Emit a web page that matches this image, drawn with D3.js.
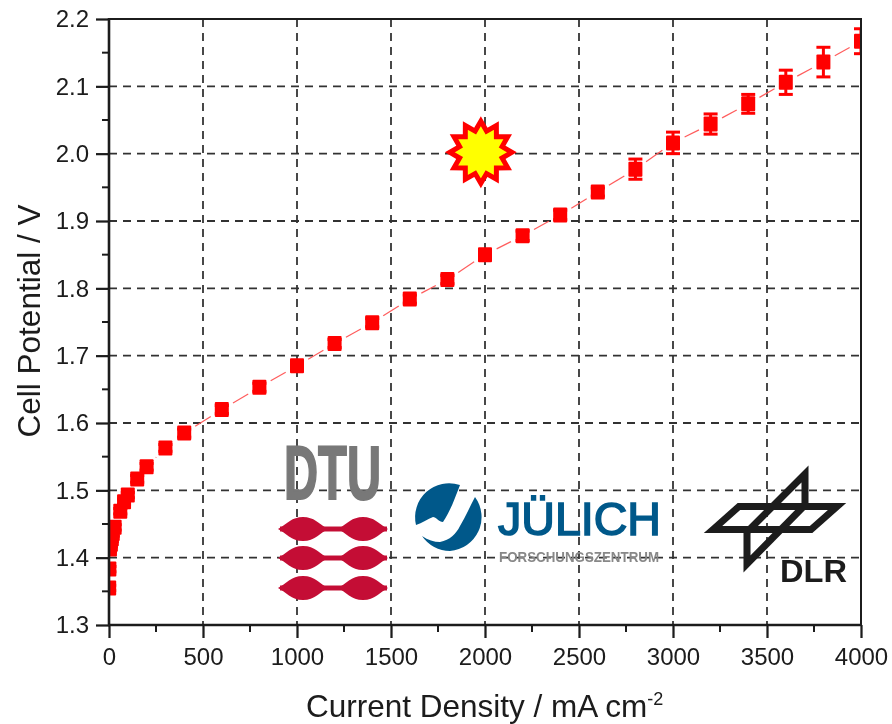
<!DOCTYPE html>
<html><head><meta charset="utf-8">
<script src="https://cdn.jsdelivr.net/npm/d3@7"></script>
<style>html,body{margin:0;background:#fff}svg{display:block}text{font-family:"Liberation Sans",Arial,sans-serif;fill:#1a1a1a}</style>
</head><body><svg id="c" width="892" height="724"></svg>
<script>
const currentDensity=[1,2,5,10,15,20,30,60,80,100,150,200,300,400,600,800,1000,1200,1400,1600,1800,2000,2200,2400,2600,2800,3000,3200,3400,3600,3800,4000];
const cellPotential=[1.355,1.383,1.413,1.42,1.428,1.436,1.445,1.469,1.483,1.493,1.517,1.535,1.563,1.585,1.62,1.653,1.685,1.718,1.749,1.784,1.813,1.85,1.878,1.909,1.943,1.977,2.016,2.044,2.074,2.106,2.136,2.167];
const errorBar=[.004,.004,.004,.004,.004,.004,.004,.004,.004,.004,.005,.005,.005,.006,.006,.006,.006,.006,.006,.006,.006,.007,.007,.007,.006,.015,.016,.015,.014,.018,.022,.0185];
const xTicks=[0,500,1000,1500,2000,2500,3000,3500,4000];
const xMinor=[250,750,1250,1750,2250,2750,3250,3750];
const yTicks=[1.3,1.4,1.5,1.6,1.7,1.8,1.9,2.0,2.1,2.2];
const yMinor=[1.35,1.45,1.55,1.65,1.75,1.85,1.95,2.05,2.15];
const starPosition=[1978,2.002];
const xTitle="Current Density / mA cm";
const yTitle="Cell Potential / V";

const L=109,R=861,T=19,B=625;
const svg=d3.select("#c");
const x=d3.scaleLinear().domain([0,4000]).range([L,R]);
const y=d3.scaleLinear().domain([1.3,2.2]).range([B,T]);
const defs=svg.append("defs");
defs.append("clipPath").attr("id","plot").append("rect").attr("x",L).attr("y",T-4).attr("width",R-L).attr("height",B-T+4);
defs.append("filter").attr("id","soft").append("feGaussianBlur").attr("stdDeviation",0.5);
defs.append("filter").attr("id","soft2").append("feGaussianBlur").attr("stdDeviation",0.7);

const root=svg.append("g").attr("filter","url(#soft)");
// grid
const grid=root.append("g").attr("stroke","#333").attr("stroke-width",1.8).attr("stroke-dasharray","8 6").attr("fill","none");
grid.selectAll(".v").data(xTicks.slice(1,-1)).join("line").attr("x1",d=>x(d)).attr("x2",d=>x(d)).attr("y1",T).attr("y2",B);
grid.selectAll(".h").data(yTicks.slice(1,-1)).join("line").attr("y1",d=>y(d)).attr("y2",d=>y(d)).attr("x1",L).attr("x2",R);

// logos
const logos=root.append("g");
logos.append("text").attr("x",284).attr("y",499).attr("font-size",76).attr("font-weight",700).attr("textLength",97).attr("lengthAdjust","spacingAndGlyphs").attr("stroke","#787878").attr("stroke-width",2).style("fill","#787878").text("DTU");
[529,558,588].forEach(cy=>{
  const g=logos.append("g").attr("fill","#c41136");
  g.append("rect").attr("x",280).attr("y",cy-2.5).attr("width",107).attr("height",5);
  [303,363].forEach(cx=>g.append("path").attr("d",`M${cx-25},${cy}C${cx-17},${cy-4} ${cx-12},${cy-12} ${cx},${cy-12}C${cx+12},${cy-12} ${cx+17},${cy-4} ${cx+25},${cy}C${cx+17},${cy+4} ${cx+12},${cy+12} ${cx},${cy+12}C${cx-12},${cy+12} ${cx-17},${cy+4} ${cx-25},${cy}Z`));
});
const ju="#00598a";
logos.append("path").attr("fill",ju).attr("d","M416,525 A34,34 0 0 1 460,485 C455,498 450,512 443,522 C439,522 436,517 433,517 C428,519 422,523 416,525Z");
logos.append("path").attr("fill",ju).attr("d","M475,497 A34,34 0 0 1 450,551 A34,34 0 0 1 422,536 C428,540 434,542 440,542 C450,540 456,534 460,526 C466,516 470,506 475,497Z");
logos.append("text").attr("x",498).attr("y",535).attr("font-size",46).attr("textLength",163).attr("lengthAdjust","spacingAndGlyphs").style("fill",ju).attr("stroke",ju).attr("stroke-width",1.6).text("JÜLICH");
logos.append("text").attr("x",499).attr("y",562).attr("font-size",14).attr("font-weight",700).attr("textLength",160).attr("lengthAdjust","spacingAndGlyphs").style("fill","#888").attr("filter","url(#soft2)").text("FORSCHUNGSZENTRUM");
const dl=logos.append("g").attr("fill","none").attr("stroke","#1c1c1c").attr("stroke-width",7).attr("stroke-linejoin","miter").attr("stroke-miterlimit",8);
dl.append("path").attr("d","M713,529.5L739,506.5H837L811,529.5Z");
dl.append("path").attr("d","M747,564V532L805,474V505Z");
logos.append("text").attr("x",780).attr("y",582).attr("font-size",31).attr("font-weight",700).attr("textLength",67).attr("lengthAdjust","spacingAndGlyphs").style("fill","#1c1c1c").text("DLR");

// data
const pts=currentDensity.map((d,i)=>({px:x(d),py:y(cellPotential[i]),x:d,y:cellPotential[i],e:errorBar[i]}));
const plot=root.append("g").attr("clip-path","url(#plot)");
const gap=13;
const segs=d3.pairs(pts).map(([a,b])=>{
  const dx=b.px-a.px,dy=b.py-a.py,l=Math.hypot(dx,dy);
  if(l<=2*gap) return null;
  return {x1:a.px+dx/l*gap,y1:a.py+dy/l*gap,x2:b.px-dx/l*gap,y2:b.py-dy/l*gap};
}).filter(Boolean);
plot.selectAll(".seg").data(segs).join("line").attr("stroke","#ff5c5c").attr("stroke-width",1.2)
  .attr("x1",d=>d.x1).attr("y1",d=>d.y1).attr("x2",d=>d.x2).attr("y2",d=>d.y2);
const eb=plot.append("g").attr("stroke","#ff0000").attr("stroke-width",3);
eb.selectAll(".s").data(pts).join("line").attr("x1",d=>d.px).attr("x2",d=>d.px).attr("y1",d=>y(d.y-d.e)).attr("y2",d=>y(d.y+d.e));
eb.selectAll(".t").data(pts).join("line").attr("x1",d=>d.px-7).attr("x2",d=>d.px+7).attr("y1",d=>y(d.y+d.e)).attr("y2",d=>y(d.y+d.e));
eb.selectAll(".b").data(pts).join("line").attr("x1",d=>d.px-7).attr("x2",d=>d.px+7).attr("y1",d=>y(d.y-d.e)).attr("y2",d=>y(d.y-d.e));
plot.selectAll(".m").data(pts).join("rect").attr("fill","#ff0000").attr("x",d=>d.px-7).attr("y",d=>d.py-7.5).attr("width",14).attr("height",15).attr("rx",1);

// star
const starPts=d3.range(24).map(i=>{const a=i*Math.PI/12,r=i%2?22:31;return [Math.sin(a)*r,-Math.cos(a)*r];});
root.append("polygon").attr("transform",`translate(${x(starPosition[0])},${y(starPosition[1])})`)
 .attr("points",starPts.map(p=>p.join(",")).join(" ")).attr("fill","#ffff00").attr("stroke","#ff0000").attr("stroke-width",5).attr("stroke-miterlimit",6);

// frame + axes
const ax=root.append("g");
const xa=ax.append("g").attr("transform",`translate(0,${B})`).call(d3.axisBottom(x).tickValues(xTicks).tickSize(13).tickPadding(10).tickFormat(d3.format("d")));
const ya=ax.append("g").attr("transform",`translate(${L},0)`).call(d3.axisLeft(y).tickValues(yTicks).tickSize(13).tickPadding(7).tickFormat(d3.format(".1f")));
[xa,ya].forEach(a=>{a.select(".domain").remove();a.selectAll("line").attr("stroke","#1a1a1a").attr("stroke-width",2.2);a.selectAll("text").attr("font-size",24).style("font-family",'"Liberation Sans",Arial,sans-serif').style("fill","#1a1a1a");a.attr("font-family",null)});
ax.selectAll(".mx").data(xMinor).join("line").attr("x1",d=>x(d)).attr("x2",d=>x(d)).attr("y1",B).attr("y2",B+7).attr("stroke","#1a1a1a").attr("stroke-width",2);
ax.selectAll(".my").data(yMinor).join("line").attr("y1",d=>y(d)).attr("y2",d=>y(d)).attr("x1",L).attr("x2",L-7).attr("stroke","#1a1a1a").attr("stroke-width",2);
ax.append("line").attr("x1",L).attr("x2",L).attr("y1",T-1).attr("y2",B+1).attr("stroke","#1a1a1a").attr("stroke-width",2.6);
ax.append("line").attr("x1",L-1).attr("x2",R+1).attr("y1",B).attr("y2",B).attr("stroke","#1a1a1a").attr("stroke-width",2.6);
ax.append("line").attr("x1",L).attr("x2",R+1).attr("y1",T).attr("y2",T).attr("stroke","#1a1a1a").attr("stroke-width",2);
ax.append("line").attr("x1",R).attr("x2",R).attr("y1",T).attr("y2",B).attr("stroke","#1a1a1a").attr("stroke-width",2);

// titles
const xt=root.append("text").attr("x",306).attr("y",717).attr("font-size",31.5);
xt.append("tspan").text(xTitle);
xt.append("tspan").attr("font-size",18).attr("dy",-12).text("-2");
root.append("text").attr("transform","translate(40,321) rotate(-90)").attr("text-anchor","middle").attr("font-size",31.5).text(yTitle);
</script></body></html>
